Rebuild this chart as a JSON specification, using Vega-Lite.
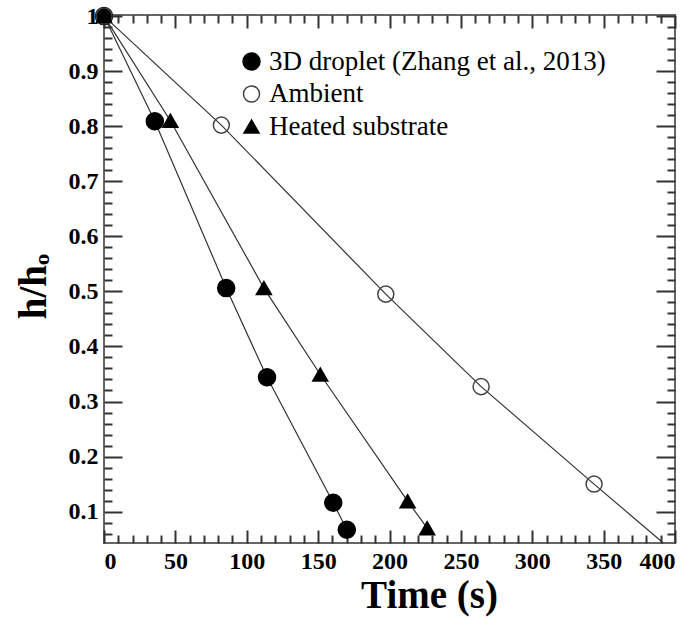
{
  "$schema": "https://vega.github.io/schema/vega-lite/v6.json",
  "autosize": {"type": "none"},
  "padding": {"left": 104, "top": 15, "right": 25, "bottom": 76},
  "width": 571,
  "height": 528,
  "background": "white",
  "config": {
    "font": "Liberation Serif",
    "view": {"stroke": "#666", "strokeWidth": 2},
    "axis": {
      "domain": false,
      "grid": false,
      "tickColor": "#333",
      "tickWidth": 2,
      "labelFont": "Liberation Serif",
      "labelFontWeight": "bold",
      "labelFontSize": 24,
      "labelColor": "#000",
      "titleFont": "Liberation Serif",
      "titleFontWeight": "bold",
      "titleFontSize": 39,
      "titleColor": "#000"
    },
    "legend": {
      "labelFont": "Liberation Serif",
      "labelFontSize": 27,
      "labelColor": "#000",
      "labelLimit": 500,
      "padding": 0,
      "rowPadding": 4.5,
      "labelOffset": 4,
      "symbolStrokeWidth": 1.5
    }
  },
  "datasets": {
    "pts": [
      {"series": "3D droplet (Zhang et al., 2013)", "time": 0, "h": 1.0, "marker": true},
      {"series": "3D droplet (Zhang et al., 2013)", "time": 35.6, "h": 0.809, "marker": true},
      {"series": "3D droplet (Zhang et al., 2013)", "time": 85.6, "h": 0.506, "marker": true},
      {"series": "3D droplet (Zhang et al., 2013)", "time": 114.2, "h": 0.344, "marker": true},
      {"series": "3D droplet (Zhang et al., 2013)", "time": 160.6, "h": 0.116, "marker": true},
      {"series": "3D droplet (Zhang et al., 2013)", "time": 170.1, "h": 0.067, "marker": true},
      {"series": "Ambient", "time": 0, "h": 1.0, "marker": true},
      {"series": "Ambient", "time": 82.2, "h": 0.802, "marker": true},
      {"series": "Ambient", "time": 197.4, "h": 0.495, "marker": true},
      {"series": "Ambient", "time": 264.2, "h": 0.327, "marker": true},
      {"series": "Ambient", "time": 343.3, "h": 0.15, "marker": true},
      {"series": "Ambient", "time": 391.8, "h": 0.043, "marker": false},
      {"series": "Heated substrate", "time": 0, "h": 1.0, "marker": true},
      {"series": "Heated substrate", "time": 46.5, "h": 0.81, "marker": true},
      {"series": "Heated substrate", "time": 112, "h": 0.506, "marker": true},
      {"series": "Heated substrate", "time": 151.5, "h": 0.349, "marker": true},
      {"series": "Heated substrate", "time": 212.7, "h": 0.119, "marker": true},
      {"series": "Heated substrate", "time": 226.4, "h": 0.07, "marker": true}
    ]
  },
  "data": {"name": "pts"},
  "resolve": {"axis": {"x": "independent", "y": "independent"}},
  "layer": [
    {
      "mark": {"type": "line", "stroke": "#333", "strokeWidth": 1.2},
      "encoding": {
        "x": {"field": "time", "type": "quantitative", "scale": {"domain": [0, 400], "nice": false, "zero": false},
              "axis": {"orient": "bottom", "values": [0, 50, 100, 150, 200, 250, 300, 350, 400], "tickSize": -13, "labelPadding": 19, "title": "Time (s)", "titleX": 325, "titleY": 52, "titleBaseline": "middle", "titleAnchor": "start", "titleAlign": "center"}},
        "y": {"field": "h", "type": "quantitative", "scale": {"domain": [0.043, 1.002], "nice": false, "zero": false},
              "axis": {"orient": "left", "values": [0.1, 0.2, 0.3, 0.4, 0.5, 0.6, 0.7, 0.8, 0.9, 1.0], "format": ".1~f", "tickSize": -18, "labelPadding": 24, "title": "h/hₒ", "titleX": -71, "titleY": 271, "titleBaseline": "middle", "titleAlign": "center", "titleAngle": -90}},
        "detail": {"field": "series"},
        "order": {"field": "time", "type": "quantitative"}
      }
    },
    {
      "transform": [{"filter": "datum.series === '3D droplet (Zhang et al., 2013)'"}],
      "mark": {"type": "point", "strokeWidth": 1.5, "opacity": 1},
      "encoding": {
        "x": {"field": "time", "type": "quantitative",
              "axis": {"orient": "bottom", "values": [10, 20, 30, 40, 60, 70, 80, 90, 110, 120, 130, 140, 160, 170, 180, 190, 210, 220, 230, 240, 260, 270, 280, 290, 310, 320, 330, 340, 360, 370, 380, 390], "tickSize": -8, "labels": false, "title": null}},
        "y": {"field": "h", "type": "quantitative",
              "axis": {"orient": "left", "values": [0.06, 0.08, 0.12, 0.14, 0.16, 0.18, 0.22, 0.24, 0.26, 0.28, 0.32, 0.34, 0.36, 0.38, 0.42, 0.44, 0.46, 0.48, 0.52, 0.54, 0.56, 0.58, 0.62, 0.64, 0.66, 0.68, 0.72, 0.74, 0.76, 0.78, 0.82, 0.84, 0.86, 0.88, 0.92, 0.94, 0.96, 0.98], "tickSize": -8, "labels": false, "title": null}},
        "shape": {"field": "series", "type": "nominal", "scale": {"domain": ["3D droplet (Zhang et al., 2013)", "Ambient", "Heated substrate"], "range": ["circle", "circle", "triangle-up"]},
                  "legend": {"title": null, "orient": "none", "legendX": 134, "legendY": 33}},
        "fill": {"field": "series", "type": "nominal", "scale": {"domain": ["3D droplet (Zhang et al., 2013)", "Ambient", "Heated substrate"], "range": ["#000", "transparent", "#000"]}, "legend": {"title": null, "orient": "none", "legendX": 134, "legendY": 33}},
        "stroke": {"field": "series", "type": "nominal", "scale": {"domain": ["3D droplet (Zhang et al., 2013)", "Ambient", "Heated substrate"], "range": ["#000", "#444", "#000"]}, "legend": {"title": null, "orient": "none", "legendX": 134, "legendY": 33}},
        "size": {"field": "series", "type": "nominal", "scale": {"domain": ["3D droplet (Zhang et al., 2013)", "Ambient", "Heated substrate"], "range": [290, 225, 170]}, "legend": {"title": null, "orient": "none", "legendX": 134, "legendY": 33}}
      }
    },
    {
      "transform": [{"filter": "datum.series === 'Ambient' && datum.marker"}],
      "mark": {"type": "point", "strokeWidth": 1.5, "opacity": 1},
      "encoding": {
        "x": {"field": "time", "type": "quantitative",
              "axis": {"orient": "top", "values": [0, 50, 100, 150, 200, 250, 300, 350, 400], "tickSize": -13, "labels": false, "title": null}},
        "y": {"field": "h", "type": "quantitative",
              "axis": {"orient": "right", "values": [0.1, 0.2, 0.3, 0.4, 0.5, 0.6, 0.7, 0.8, 0.9, 1.0], "tickSize": -19, "labels": false, "title": null}},
        "shape": {"field": "series", "type": "nominal"},
        "fill": {"field": "series", "type": "nominal"},
        "stroke": {"field": "series", "type": "nominal"},
        "size": {"field": "series", "type": "nominal"}
      }
    },
    {
      "transform": [{"filter": "datum.series === 'Heated substrate'"}],
      "mark": {"type": "point", "strokeWidth": 1.5, "opacity": 1},
      "encoding": {
        "x": {"field": "time", "type": "quantitative",
              "axis": {"orient": "top", "values": [10, 20, 30, 40, 60, 70, 80, 90, 110, 120, 130, 140, 160, 170, 180, 190, 210, 220, 230, 240, 260, 270, 280, 290, 310, 320, 330, 340, 360, 370, 380, 390], "tickSize": -8, "labels": false, "title": null}},
        "y": {"field": "h", "type": "quantitative",
              "axis": {"orient": "right", "values": [0.06, 0.08, 0.12, 0.14, 0.16, 0.18, 0.22, 0.24, 0.26, 0.28, 0.32, 0.34, 0.36, 0.38, 0.42, 0.44, 0.46, 0.48, 0.52, 0.54, 0.56, 0.58, 0.62, 0.64, 0.66, 0.68, 0.72, 0.74, 0.76, 0.78, 0.82, 0.84, 0.86, 0.88, 0.92, 0.94, 0.96, 0.98], "tickSize": -8, "labels": false, "title": null}},
        "shape": {"field": "series", "type": "nominal"},
        "fill": {"field": "series", "type": "nominal"},
        "stroke": {"field": "series", "type": "nominal"},
        "size": {"field": "series", "type": "nominal"}
      }
    }
  ]
}
